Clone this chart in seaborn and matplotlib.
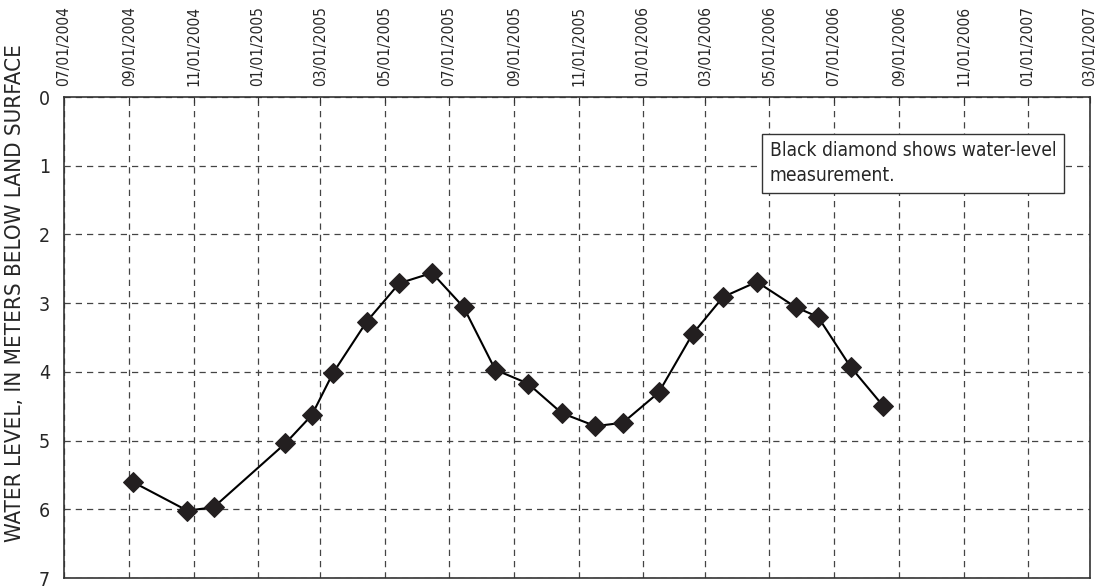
import numpy as np
import pandas as pd
import seaborn as sns
import matplotlib
matplotlib.use("Agg")
import matplotlib.pyplot as plt
import matplotlib.dates as mdates

# measurement dates and depth to water (m below land surface)
dates = ["2004-09-04", "2004-10-26", "2004-11-20", "2005-01-27", "2005-02-21",
         "2005-03-13", "2005-04-14", "2005-05-15", "2005-06-15", "2005-07-15",
         "2005-08-14", "2005-09-14", "2005-10-16", "2005-11-17", "2005-12-13",
         "2006-01-16", "2006-02-17", "2006-03-18", "2006-04-19", "2006-05-26",
         "2006-06-16", "2006-07-17", "2006-08-17"]
levels = [5.60, 6.02, 5.97, 5.04, 4.63,
          4.02, 3.27, 2.71, 2.56, 3.06,
          3.97, 4.17, 4.60, 4.79, 4.74,
          4.30, 3.45, 2.91, 2.69, 3.06,
          3.20, 3.93, 4.50]

tick_dates = pd.date_range("2004-07-01", "2007-03-01", freq="2MS")

sns.set_style("white")
plt.rcParams["font.family"] = ["DejaVu Sans"]
plt.rcParams["font.stretch"] = "condensed"

df = pd.DataFrame({"date": pd.to_datetime(dates), "level": levels})

fig = plt.figure(figsize=(11.01, 5.88), dpi=100)
ax = fig.add_axes([0.0581, 0.017, 0.932, 0.818])

sns.lineplot(data=df, x="date", y="level", ax=ax, color="black", lw=1.5,
             marker="D", markersize=10, markerfacecolor="#231f20",
             markeredgecolor="#231f20", zorder=3)

ax.set_xlim(tick_dates[0], tick_dates[-1])
ax.set_ylim(7, 0)
ax.set_xticks(tick_dates)
ax.xaxis.set_major_formatter(mdates.DateFormatter("%m/%d/%Y"))
ax.xaxis.tick_top()
ax.tick_params(axis="x", labelrotation=90, labelsize=11.2, direction="in",
               length=4, color="#333333", pad=8)
ax.set_yticks(range(8))
ax.tick_params(axis="y", labelsize=14, length=0, pad=10)
for lab in ax.get_xticklabels():
    lab.set_horizontalalignment("center")

ax.grid(True, color="#444444", linestyle=(0, (5, 4)), lw=0.9)
for s in ax.spines.values():
    s.set_color("#333333")
    s.set_linewidth(1.2)

ax.set_xlabel("")
ax.set_ylabel("WATER LEVEL, IN METERS BELOW LAND SURFACE", fontsize=16)
ax.yaxis.set_label_coords(-0.038, 0.592)

ax.text(0.688, 0.908, "Black diamond shows water-level\nmeasurement.",
        transform=ax.transAxes, ha="left", va="top", fontsize=13.8, linespacing=1.4,
        bbox=dict(boxstyle="square,pad=0.4", fc="white", ec="#333333", lw=1))

fig.savefig("out.png", dpi=100)
